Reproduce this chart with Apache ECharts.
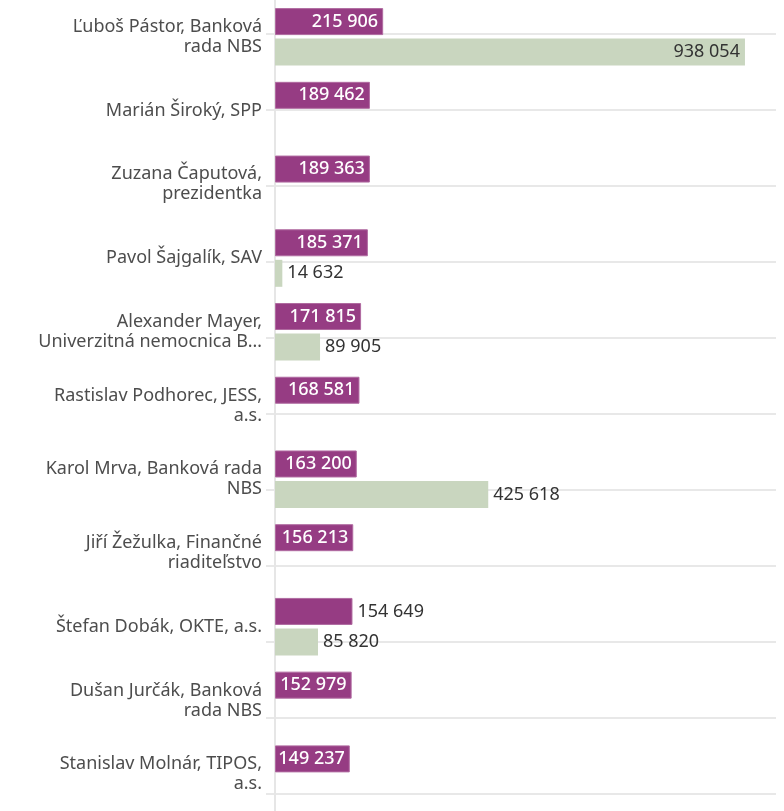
<!DOCTYPE html>
<html>
<head>
<meta charset="utf-8">
<script src="https://cdn.jsdelivr.net/npm/echarts@6/dist/echarts.min.js"></script>
<style>html,body{margin:0;padding:0;background:#fff;}#c{width:784px;height:811px;}</style>
</head>
<body>
<div id="c"></div>
<script>
var categories = [
  "Ľuboš Pástor, Banková\nrada NBS",
  "Marián Široký, SPP",
  "Zuzana Čaputová,\nprezidentka",
  "Pavol Šajgalík, SAV",
  "Alexander Mayer,\nUniverzitná nemocnica B…",
  "Rastislav Podhorec, JESS,\na.s.",
  "Karol Mrva, Banková rada\nNBS",
  "Jiří Žežulka, Finančné\nriaditeľstvo",
  "Štefan Dobák, OKTE, a.s.",
  "Dušan Jurčák, Banková\nrada NBS",
  "Stanislav Molnár, TIPOS,\na.s."
];
var purpleValues = [215906, 189462, 189363, 185371, 171815, 168581, 163200, 156213, 154649, 152979, 149237];
var greenValues = [938054, null, null, 14632, 89905, null, 425618, null, 85820, null, null];
var purpleOutside = [8];
var greenInside = [0];
var lineTicks = [0, 1, 2, 3, 4, 5, 6, 7, 8, 9, 10];

var FONT = "Noto Sans";
function fmt(v) { return String(v).replace(/\B(?=(\d{3})+(?!\d))/g, " "); }

var purpleData = purpleValues.map(function (v, i) {
  var out = purpleOutside.indexOf(i) >= 0;
  return { value: v, label: out ? { position: "right", color: "#333", fontWeight: "normal" } : { position: "insideRight", color: "#fff" } };
});
var greenData = greenValues.map(function (v, i) {
  if (v === null) return null;
  var ins = greenInside.indexOf(i) >= 0;
  return { value: v, label: { position: ins ? "insideRight" : "right", color: "#333" } };
});

var chart = echarts.init(document.getElementById("c"), null, { renderer: "canvas" });
chart.setOption({
  backgroundColor: "#fff",
  animation: false,
  grid: [
    { left: 275, top: -4, width: 501, height: 836 },
    { left: 266, top: 34, width: 510, height: 760 }
  ],
  xAxis: [
    { gridIndex: 0, type: "value", min: 0, max: 1000000, show: false },
    { gridIndex: 1, type: "value", min: 0, max: 1, show: false }
  ],
  yAxis: [
    {
      gridIndex: 0, type: "category", inverse: true, data: categories,
      axisLine: { show: true, lineStyle: { color: "#e6e6e6", width: 2 } },
      axisTick: { show: false },
      splitLine: { show: false },
      axisLabel: { margin: 13, fontFamily: FONT, fontSize: 18, color: "#4d4d4d", lineHeight: 20, align: "right" },
      z: 1
    },
    {
      gridIndex: 1, type: "value", inverse: true, min: lineTicks[0], max: lineTicks[lineTicks.length - 1], interval: 1,
      axisLine: { show: false }, axisTick: { show: false }, axisLabel: { show: false },
      splitLine: { show: true, lineStyle: { color: "#e8e8e8", width: 2 } }
    }
  ],
  series: [
    {
      type: "bar", xAxisIndex: 0, yAxisIndex: 0, data: purpleData,
      barWidth: 27, barGap: "13%",
      itemStyle: { color: "#963c83", borderColor: "#b06aa0", borderWidth: 1 },
      label: { show: true, distance: 5, fontFamily: FONT, fontSize: 18, fontWeight: 500, formatter: function (p) { return fmt(p.value); } },
      z: 3
    },
    {
      type: "bar", xAxisIndex: 0, yAxisIndex: 0, data: greenData,
      barWidth: 27, barGap: "13%",
      itemStyle: { color: "#c9d6bf" },
      label: { show: true, distance: 5, fontFamily: FONT, fontSize: 18, formatter: function (p) { return fmt(p.value); } },
      z: 3
    }
  ]
});
</script>
</body>
</html>
